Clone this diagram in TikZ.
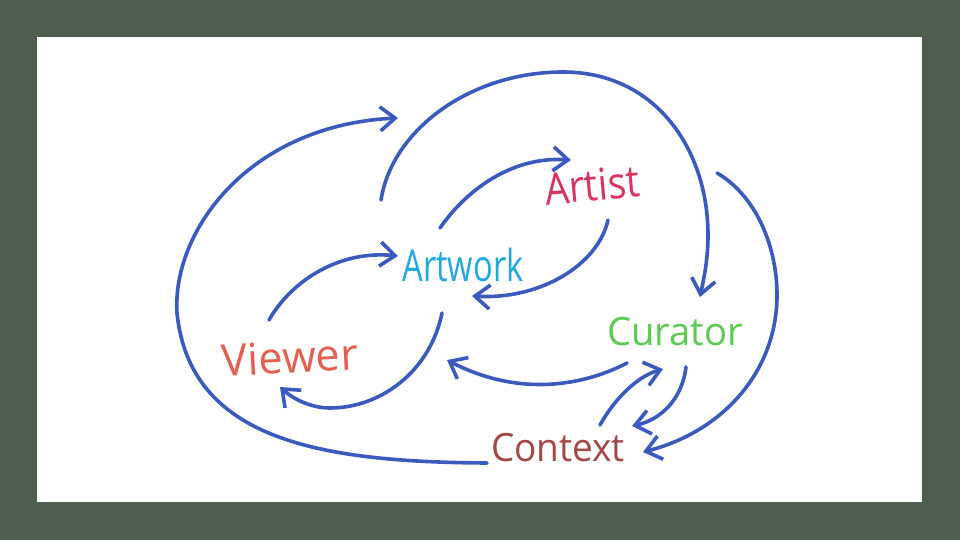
\documentclass[tikz,border=0pt]{standalone}
\usepackage{fontspec}
\setmainfont{Open Sans}
\usetikzlibrary{arrows.meta}
\definecolor{bgc}{HTML}{4D5E4F}
\definecolor{pen}{HTML}{3A5ABE}
\definecolor{cArtist}{HTML}{D8345F}
\definecolor{cArtwork}{HTML}{22A8DD}
\definecolor{cViewer}{HTML}{E2604F}
\definecolor{cCurator}{HTML}{5ACB50}
\definecolor{cContext}{HTML}{A34848}
\tikzset{
  lbl/.style={inner sep=0pt, font=\fontsize{44}{48}\selectfont},
  small/.style={font=\fontsize{39}{43}\selectfont},
  link/.style={draw=pen, line width=3.6pt, line cap=round, line join=round,
    -{Straight Barb[length=15pt,width=24pt,line width=3.6pt]}},
}
\begin{document}
\begin{tikzpicture}[x=1pt,y=-1pt]
\useasboundingbox (0,0) rectangle (960,540);
\fill[bgc] (0,0) rectangle (960,540);
\fill[white] (37,37) rectangle (922,502);

\node[lbl, text=cArtist, rotate=5] (artist) at (592,185) {\resizebox{95pt}{\height}{Artist}};
\node[lbl, text=cArtwork] (artwork) at (463,265) {\resizebox{121pt}{\height}{Artwork}};
\node[lbl, text=cViewer, rotate=3] (viewer) at (290,357) {\resizebox{136pt}{\height}{Viewer}};
\node[lbl, small, text=cCurator] (curator) at (675,332) {\resizebox{136pt}{\height}{Curator}};
\node[lbl, small, text=cContext] (context) at (558,448) {\resizebox{134pt}{\height}{Context}};

% named free ends
\coordinate (ctxL) at (487,463);
\coordinate (topIn) at (398,118);
\coordinate (arcS) at (381,200);
\coordinate (curT) at (700,297);
\coordinate (rS) at (717,173);
\coordinate (ctxR) at (643,452);
\coordinate (awNE) at (440,228);
\coordinate (arW) at (571,160);
\coordinate (arS) at (608,220);
\coordinate (awSE) at (472,296);
\coordinate (vwN) at (269,320);
\coordinate (awW) at (398,256);
\coordinate (awS) at (442,313);
\coordinate (vwS) at (280,387);
\coordinate (cuSW) at (627,363);
\coordinate (awLow) at (447,360);
\coordinate (cxN) at (600,425);
\coordinate (cuS) at (663,369);
\coordinate (cuSE) at (686,367);
\coordinate (cxNE) at (632,426);

% Context -> big left loop -> top
\draw[link] (ctxL) .. controls (320,462) and (190,440) .. (177,313)
  .. controls (172,230) and (250,125) .. (topIn);
% big top arc -> Curator
\draw[link] (arcS) .. controls (392,130) and (470,72) .. (563,72)
  .. controls (656,72) and (708,150) .. (708,235)
  .. controls (708,262) and (703,282) .. (curT);
% right arc -> Context
\draw[link] (rS) .. controls (755,195) and (777,245) .. (777,295)
  .. controls (777,372) and (722,432) .. (ctxR);
% Artwork -> Artist
\draw[link] (awNE) .. controls (465,192) and (510,156) .. (arW);
% Artist -> Artwork
\draw[link] (arS) .. controls (598,265) and (540,300) .. (awSE);
% Viewer -> Artwork
\draw[link] (vwN) .. controls (292,280) and (340,250) .. (awW);
% Artwork -> Viewer
\draw[link] (awS) .. controls (430,372) and (380,408) .. (330,408)
  .. controls (310,408) and (292,398) .. (vwS);
% Curator -> Artwork (lower)
\draw[link] (cuSW) .. controls (585,385) and (520,398) .. (awLow);
% Context -> Curator
\draw[link] (cxN) .. controls (615,398) and (638,376) .. (cuS);
% Curator -> Context
\draw[link] (cuSE) .. controls (682,400) and (660,420) .. (cxNE);
\end{tikzpicture}
\end{document}
